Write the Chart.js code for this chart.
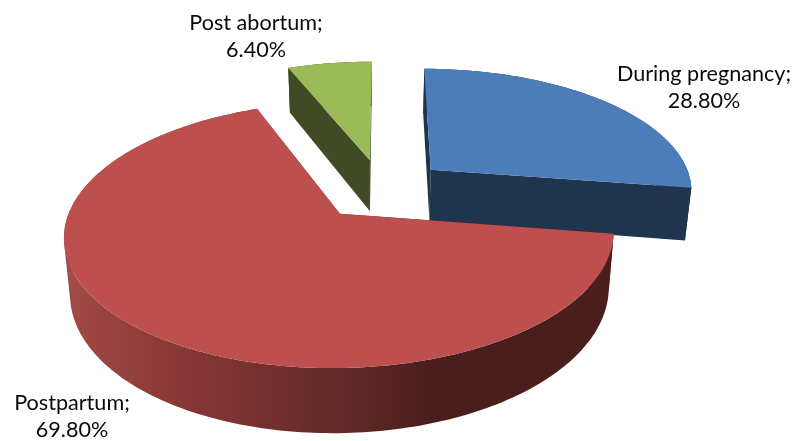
<!DOCTYPE html>
<html lang="en">
<head>
    <meta charset="UTF-8">
    <title>Pie chart</title>
    <style>
        html, body { margin: 0; padding: 0; background: #fff; }
        canvas { display: block; }
    </style>
</head>
<body>
    <canvas id="chart" width="801" height="441"></canvas>

    <script src="https://cdn.jsdelivr.net/npm/chart.js"></script>
    <script>
        const categories = ['During pregnancy', 'Postpartum', 'Post abortum'];
        const values = [28.8, 69.8, 6.4];
        const topColors = ['#4d7db9', '#bd504e', '#9bbb59'];
        const sideColors = ['#1f344d', null, '#404a24'];

        // label placement, line centres in page pixels
        const labelX = [704, 72, 256];
        const labelY = [74, 403, 23];
        const labelLineGap = 27.5;

        // tilted view of the pie plane
        const view = { x: 382, y: 189, a: 263, b: 122, k: 0.155, depth: 53, bottomShrink: 0.98, shrinkX: 371 };

        function project(u, v, lower) {
            const w = 1 - view.k * v;
            let x = view.x + view.a * u / w;
            if (lower) x = view.shrinkX + (x - view.shrinkX) * view.bottomShrink;
            const y = view.y + view.b * v / w + (lower ? view.depth / w : 0);
            return { x, y };
        }

        // outline of one slice in pie-plane units, taken from the arc element
        function sliceOutline(el) {
            const r = el.outerRadius;
            const mid = (el.startAngle + el.endAngle) / 2;
            const off = (el.options.offset || 0) / 4 / r;
            const ox = Math.cos(mid) * off;
            const oy = Math.sin(mid) * off;
            const pts = [{ u: ox, v: oy }];
            const n = Math.ceil((el.endAngle - el.startAngle) / 0.02);
            for (let i = 0; i <= n; i++) {
                const a = el.startAngle + (el.endAngle - el.startAngle) * i / n;
                pts.push({ u: ox + Math.cos(a), v: oy + Math.sin(a) });
            }
            return pts;
        }

        function redGradient(ctx, outline) {
            const xs = outline.map(p => project(p.u, p.v, false).x);
            const g = ctx.createLinearGradient(Math.min(...xs), 0, Math.max(...xs), 0);
            g.addColorStop(0, '#a44c49');
            g.addColorStop(0.066, '#9a4341');
            g.addColorStop(0.25, '#843533');
            g.addColorStop(0.47, '#662b29');
            g.addColorStop(0.61, '#532220');
            g.addColorStop(0.67, '#4a1e1d');
            g.addColorStop(1, '#4a1e1d');
            return g;
        }

        function addPolygon(ctx, pts) {
            pts.forEach((p, k) => k ? ctx.lineTo(p.x, p.y) : ctx.moveTo(p.x, p.y));
            ctx.closePath();
        }

        function signedArea(pts) {
            let sum = 0;
            pts.forEach((p, k) => {
                const q = pts[(k + 1) % pts.length];
                sum += p.x * q.y - q.x * p.y;
            });
            return sum;
        }

        function drawSlice(ctx, el, i) {
            const outline = sliceOutline(el);
            const top = outline.map(p => project(p.u, p.v, false));
            const low = outline.map(p => project(p.u, p.v, true));
            const last = outline.length - 1;

            ctx.fillStyle = sideColors[i] || redGradient(ctx, outline);

            // the two cut faces
            ctx.beginPath();
            addPolygon(ctx, [top[0], top[1], low[1], low[0]]);
            ctx.fill();
            ctx.beginPath();
            addPolygon(ctx, [top[0], top[last], low[last], low[0]]);
            ctx.fill();

            // the rim: all its strips in one path, same winding, so no seams show
            ctx.beginPath();
            for (let j = 1; j < last; j++) {
                const quad = [top[j], top[j + 1], low[j + 1], low[j]];
                addPolygon(ctx, signedArea(quad) < 0 ? quad.reverse() : quad);
            }
            ctx.fill();

            ctx.fillStyle = el.options.backgroundColor;
            ctx.beginPath();
            addPolygon(ctx, top);
            ctx.fill();
        }

        const tiltedPie = {
            id: 'tiltedPie',
            beforeDatasetDraw(chart, args) {
                const ctx = chart.ctx;
                const arcs = chart.getDatasetMeta(args.index).data;
                const order = arcs.map((el, i) => i).sort((a, b) => {
                    const apex = el => Math.sin((el.startAngle + el.endAngle) / 2);
                    return apex(arcs[a]) - apex(arcs[b]);
                });
                ctx.save();
                order.forEach(i => drawSlice(ctx, arcs[i], i));
                ctx.restore();

                ctx.save();
                ctx.fillStyle = '#0a0a0a';
                ctx.font = '21.6px Lato';
                ctx.textAlign = 'center';
                ctx.textBaseline = 'middle';
                categories.forEach((name, i) => {
                    ctx.fillText(name + ';', labelX[i], labelY[i]);
                    ctx.fillText(values[i].toFixed(2) + '%', labelX[i], labelY[i] + labelLineGap);
                });
                ctx.restore();
                return false;
            }
        };

        new Chart(document.getElementById('chart').getContext('2d'), {
            type: 'pie',
            data: {
                labels: categories,
                datasets: [{
                    data: values,
                    backgroundColor: topColors,
                    borderWidth: 0,
                    offset: 147,
                    hoverOffset: 0
                }]
            },
            options: {
                responsive: false,
                animation: false,
                events: [],
                plugins: { legend: { display: false }, tooltip: { enabled: false } }
            },
            plugins: [tiltedPie]
        });
    </script>
</body>
</html>
